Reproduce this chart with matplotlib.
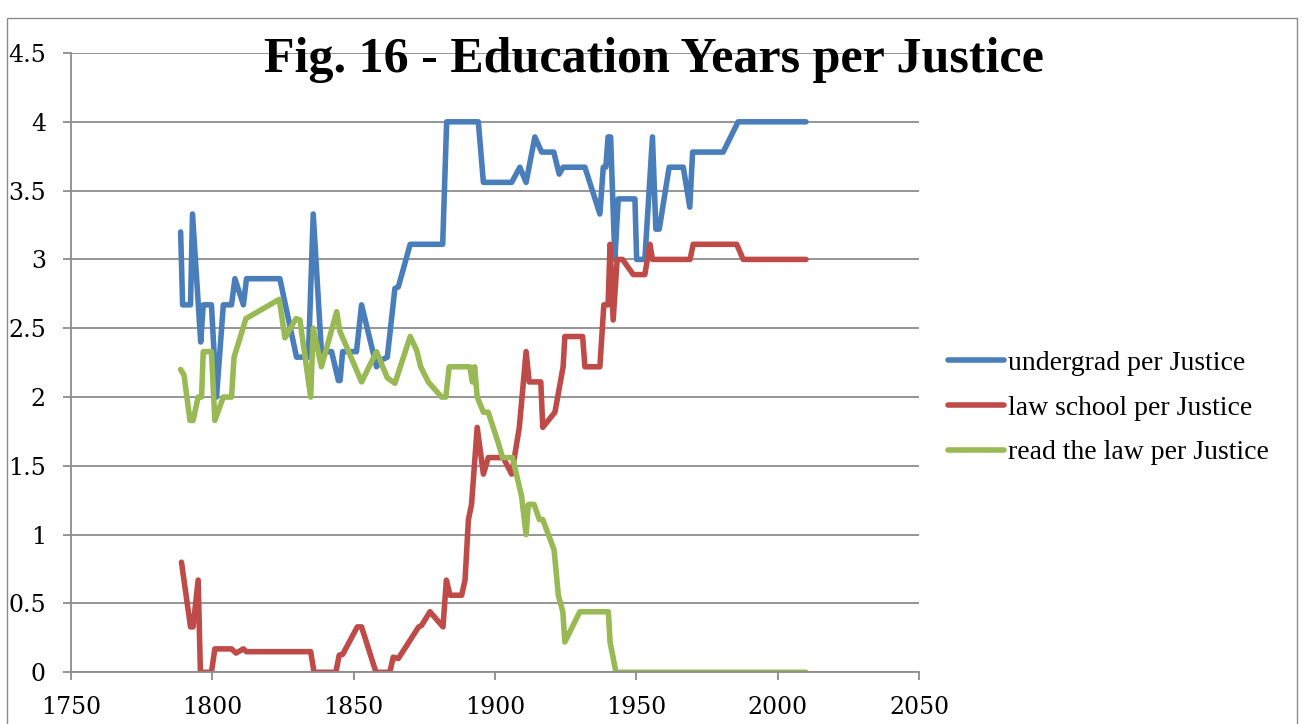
import matplotlib.pyplot as plt
from matplotlib.patches import Rectangle

# undergrad per Justice
ug_years = [1788.8, 1789.5, 1792.3, 1793.0, 1795.9, 1796.8, 1799.7, 1801.5, 1803.9, 1806.8,
            1808.0, 1811.0, 1812.1, 1823.9, 1829.8, 1834.0, 1835.7, 1838.6, 1842.2, 1844.6,
            1845.2, 1846.1, 1851.0, 1852.8, 1858.1, 1859.9, 1861.9, 1864.6, 1865.8, 1870.0,
            1881.5, 1882.9, 1894.1, 1895.9, 1905.9, 1908.8, 1911.0, 1914.1, 1916.5, 1920.8,
            1922.7, 1924.1, 1931.8, 1937.1, 1938.3, 1939.2, 1940.0, 1940.9, 1942.4, 1943.6,
            1949.5, 1950.1, 1953.0, 1955.7, 1956.9, 1958.1, 1961.6, 1966.6, 1968.9, 1969.9,
            1980.7, 1986.0, 2010.0]
ug_vals = [3.2, 2.67, 2.67, 3.33, 2.4, 2.67, 2.67, 2.0, 2.67, 2.67,
           2.86, 2.67, 2.86, 2.86, 2.29, 2.29, 3.33, 2.33, 2.33, 2.12,
           2.12, 2.33, 2.33, 2.67, 2.22, 2.27, 2.29, 2.79, 2.8, 3.11,
           3.11, 4.0, 4.0, 3.56, 3.56, 3.67, 3.56, 3.89, 3.78, 3.78,
           3.62, 3.67, 3.67, 3.33, 3.67, 3.67, 3.89, 3.89, 3.0, 3.44,
           3.44, 3.0, 3.0, 3.89, 3.22, 3.22, 3.67, 3.67, 3.38, 3.78,
           3.78, 4.0, 4.0]

# law school per Justice
ls_years = [1789.1, 1792.3, 1793.2, 1795.0, 1795.8, 1799.7, 1800.9, 1806.8, 1808.4, 1811.0,
            1812.1, 1834.8, 1836.0, 1843.7, 1844.9, 1846.1, 1851.3, 1852.8, 1857.9, 1862.8,
            1864.0, 1865.8, 1873.0, 1874.0, 1877.0, 1881.6, 1882.8, 1884.1, 1888.2, 1889.4,
            1890.6, 1891.7, 1893.7, 1895.9, 1897.6, 1902.9, 1905.9, 1908.6, 1911.0, 1912.1,
            1916.2, 1916.9, 1921.2, 1924.1, 1924.7, 1931.0, 1931.8, 1937.1, 1938.5, 1940.0,
            1940.7, 1941.8, 1943.2, 1945.1, 1948.9, 1953.0, 1954.8, 1955.7, 1969.0, 1970.1,
            1985.5, 1987.8, 2010.0]
ls_vals = [0.8, 0.33, 0.33, 0.67, 0.0, 0.0, 0.17, 0.17, 0.14, 0.17,
           0.15, 0.15, 0.0, 0.0, 0.125, 0.13, 0.33, 0.33, 0.0, 0.0,
           0.11, 0.1, 0.33, 0.34, 0.44, 0.33, 0.67, 0.56, 0.56, 0.67,
           1.11, 1.22, 1.78, 1.44, 1.56, 1.56, 1.44, 1.78, 2.33, 2.11,
           2.11, 1.78, 1.89, 2.22, 2.44, 2.44, 2.22, 2.22, 2.67, 2.67,
           3.11, 2.56, 3.0, 3.0, 2.89, 2.89, 3.11, 3.0, 3.0, 3.11,
           3.11, 3.0, 3.0]

# read the law per Justice
rl_years = [1788.8, 1790.0, 1792.1, 1793.2, 1795.0, 1796.2, 1796.8, 1799.7, 1800.9, 1803.9,
            1806.8, 1807.7, 1809.2, 1811.9, 1823.7, 1825.7, 1829.6, 1831.0, 1834.8, 1835.7,
            1838.6, 1844.0, 1845.1, 1852.8, 1858.1, 1861.9, 1864.6, 1870.0, 1872.3, 1873.7,
            1876.4, 1881.1, 1882.6, 1883.8, 1891.1, 1892.0, 1892.8, 1893.7, 1895.9, 1897.6,
            1901.1, 1902.7, 1906.2, 1909.4, 1911.0, 1911.8, 1913.8, 1915.7, 1916.9, 1920.9,
            1922.4, 1924.0, 1924.7, 1930.0, 1940.1, 1940.7, 1942.8, 2010.0]
rl_vals = [2.2, 2.16, 1.83, 1.83, 2.0, 2.0, 2.33, 2.33, 1.83, 2.0,
           2.0, 2.29, 2.39, 2.57, 2.71, 2.43, 2.57, 2.56, 2.0, 2.5,
           2.22, 2.62, 2.48, 2.11, 2.33, 2.14, 2.1, 2.44, 2.34, 2.22,
           2.11, 2.0, 2.0, 2.22, 2.22, 2.11, 2.22, 2.0, 1.89, 1.89,
           1.67, 1.56, 1.56, 1.28, 1.0, 1.22, 1.22, 1.11, 1.11, 0.89,
           0.56, 0.44, 0.22, 0.44, 0.44, 0.22, 0.0, 0.0]

labels = ['undergrad per Justice', 'law school per Justice', 'read the law per Justice']
colors = ['#4A7EBB', '#BE4B48', '#98B954']

plt.rcParams['font.family'] = ['Liberation Serif', 'DejaVu Serif']

fig = plt.figure(figsize=(13.04, 7.24), dpi=100)
ax = fig.add_axes([0.0544, 0.0714, 0.6504, 0.8554])

for xs, ys, lab, c in zip([ug_years, ls_years, rl_years], [ug_vals, ls_vals, rl_vals], labels, colors):
    ax.plot(xs, ys, color=c, lw=4.0, label=lab, solid_joinstyle='round', solid_capstyle='round')

ax.set_xlim(1750, 2050)
ax.set_ylim(0, 4.5)
ax.set_xticks([1750, 1800, 1850, 1900, 1950, 2000, 2050])
ax.set_yticks([0, 0.5, 1, 1.5, 2, 2.5, 3, 3.5, 4, 4.5])
ax.set_yticklabels(['0', '0.5', '1', '1.5', '2', '2.5', '3', '3.5', '4', '4.5'])
ax.grid(axis='y', color='#8C8C8C', lw=1.3)
ax.set_axisbelow(True)
for s in ['top', 'right']:
    ax.spines[s].set_visible(False)
for s in ['left', 'bottom']:
    ax.spines[s].set_color('#8C8C8C')
    ax.spines[s].set_linewidth(1.3)
ax.tick_params(axis='both', colors='#8C8C8C', labelcolor='black', length=6, width=1.3)
ax.tick_params(axis='y', pad=12)
ax.tick_params(axis='x', pad=11)
for t in ax.get_xticklabels() + ax.get_yticklabels():
    t.set_fontfamily('DejaVu Serif')
    t.set_fontsize(17)

fig.text(0.5015, 1 - 72 / 724, 'Fig. 16 - Education Years per Justice', ha='center', va='baseline',
         fontsize=36, fontweight='bold')

fig.legend(loc='center left', bbox_to_anchor=(948 / 1304, 1 - 408 / 724), frameon=False, fontsize=20,
           handlelength=2.0, handletextpad=0.15, labelspacing=0.69, borderpad=0, borderaxespad=0)

fig.patches.append(Rectangle((7 / 1304, -0.01), 1290 / 1304, 1 - 18 / 724 + 0.01,
                             transform=fig.transFigure, fill=False, edgecolor='#8C8C8C', lw=1))

plt.savefig('out.png')
